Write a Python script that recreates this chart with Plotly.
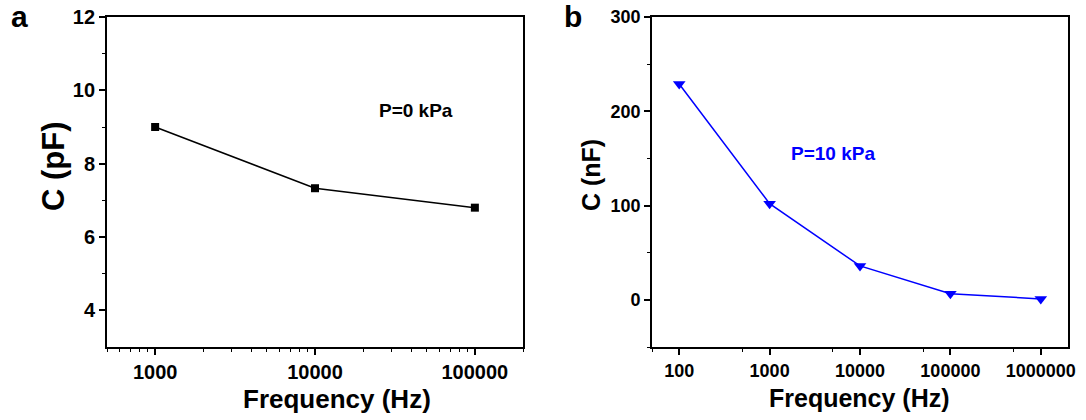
import numpy as np
import plotly.graph_objects as go

# ---- data ----
freq_a = [1000, 10000, 100000]
cap_a = [9.0, 7.33, 6.8]
label_a = "P=0 kPa"

freq_b = [100, 1000, 10000, 100000, 1000000]
cap_b = [229, 102, 36, 6.5, 1.0]
label_b = "P=10 kPa"

xticks_a = [1000, 10000, 100000]
yticks_a = [4, 6, 8, 10, 12]
xticks_b = [100, 1000, 10000, 100000, 1000000]
yticks_b = [0, 100, 200, 300]

FONT = "Liberation Sans, Arial, sans-serif"
W, H = 1086, 420

def px(x):
    return x / W

def py(y):
    return 1 - y / H

fig = go.Figure()

fig.add_trace(go.Scatter(
    x=freq_a, y=cap_a, mode="lines+markers",
    line=dict(color="black", width=1.5),
    marker=dict(symbol="square", size=8, color="black"),
    xaxis="x", yaxis="y", showlegend=False))

fig.add_trace(go.Scatter(
    x=freq_b, y=cap_b, mode="lines+markers",
    line=dict(color="#0000FF", width=1.5),
    marker=dict(symbol="triangle-down", size=11, color="#0000FF"),
    xaxis="x2", yaxis="y2", showlegend=False))

minor_a = [m * 10 ** e for e in (2, 3, 4, 5) for m in range(2, 10)]
minor_a = [v for v in minor_a if 500 <= v <= 200000]
minor_b = [5 * 10 ** e for e in (1, 2, 3, 4, 5, 6)]
minor_b = [v for v in minor_b if 50 <= v <= 2000000]

axis_common = dict(
    showline=True, linecolor="black", linewidth=1.8, mirror=True,
    ticks="outside", ticklen=6, tickwidth=1.5, tickcolor="black",
    showgrid=False, zeroline=False, automargin=False,
)

fig.update_layout(
    template="none",
    width=W, height=H,
    margin=dict(l=0, r=0, t=0, b=0, pad=0),
    paper_bgcolor="white", plot_bgcolor="white",
    font=dict(family=FONT, color="black"),
    xaxis=dict(
        type="log", domain=[px(107), px(523)],
        range=[np.log10(500), np.log10(200000)],
        tickmode="array", tickvals=xticks_a, ticktext=[str(v) for v in xticks_a],
        tickfont=dict(size=20, family=FONT, weight="bold"),
        minor=dict(tickmode="array", tickvals=minor_a, ticks="outside",
                   ticklen=3, tickwidth=1.2, tickcolor="black", showgrid=False),
        anchor="y", **axis_common),
    yaxis=dict(
        domain=[py(347), py(17)], range=[3, 12],
        tickmode="array", tickvals=yticks_a,
        tickfont=dict(size=20, family=FONT, weight="bold"),
        minor=dict(tickmode="array", tickvals=[5, 7, 9, 11], ticks="outside",
                   ticklen=3, tickwidth=1.2, tickcolor="black", showgrid=False),
        anchor="x", **axis_common),
    xaxis2=dict(
        type="log", domain=[px(652), px(1068)],
        range=[np.log10(50), np.log10(2000000)],
        tickmode="array", tickvals=xticks_b, ticktext=[str(v) for v in xticks_b],
        tickfont=dict(size=18, family=FONT, weight="bold"),
        minor=dict(tickmode="array", tickvals=minor_b, ticks="outside",
                   ticklen=3, tickwidth=1.2, tickcolor="black", showgrid=False),
        anchor="y2", **axis_common),
    yaxis2=dict(
        domain=[py(347), py(17)], range=[-50, 300],
        tickmode="array", tickvals=yticks_b,
        tickfont=dict(size=18, family=FONT, weight="bold"),
        minor=dict(tickmode="array", tickvals=[-50, 50, 150, 250], ticks="outside",
                   ticklen=3, tickwidth=1.2, tickcolor="black", showgrid=False),
        anchor="x2", **axis_common),
)

def ann(text, x, y, size, color="black", angle=0):
    fig.add_annotation(
        text=text, x=px(x), y=py(y), xref="paper", yref="paper",
        xanchor="center", yanchor="middle", showarrow=False, textangle=angle,
        font=dict(family=FONT, size=size, color=color, weight="bold"))

ann("a", 19, 17, 30)
ann("b", 573, 17, 30)
ann("C (pF)", 54, 166, 31, angle=-90)
ann("C (nF)", 591, 175, 25, angle=-90)
ann("Frequency (Hz)", 337, 399, 26)
ann("Frequency (Hz)", 859, 398, 25)
ann(label_a, 416, 111, 19)
ann(label_b, 833, 153, 19, color="#0000FF")

fig.write_html(
    "out.html",
    config={"displayModeBar": False},
    post_script="document.body.style.margin='0';document.body.style.overflow='hidden';",
)
